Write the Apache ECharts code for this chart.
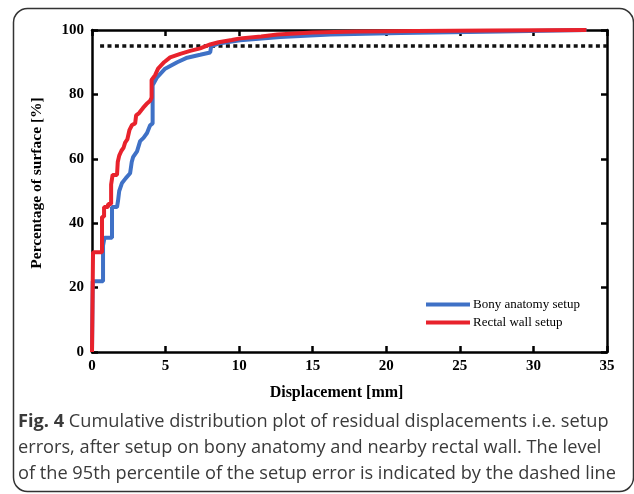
<!DOCTYPE html>
<html>
<head>
<meta charset="utf-8">
<script src="https://cdn.jsdelivr.net/npm/echarts@6/dist/echarts.min.js"></script>
<style>
  html, body { margin: 0; padding: 0; background: #fff; }
  #main { width: 634px; height: 494px; }
</style>
</head>
<body>
<div id="main"></div>
<script>
  // 位移 [mm] / 表面百分比 [%]
  const bonyData = [
    [0, 0], [0.05, 0], [0.05, 22], [0.75, 22], [0.75, 33], [0.85, 33], [0.85, 35.5],
    [1.36, 35.5], [1.36, 45], [1.7, 45], [1.77, 47], [1.85, 50], [2.04, 52.5], [2.3, 54],
    [2.59, 55.5], [2.7, 59], [2.79, 60.5], [3.06, 62.3], [3.27, 65.5], [3.5, 66.5],
    [3.74, 68], [3.95, 70.4], [4.12, 71], [4.12, 82.8], [4.42, 85.3], [4.97, 88],
    [5.79, 90], [6.47, 91.4], [7.35, 92.3], [8.03, 93], [8.1, 95], [8.6, 95.8],
    [10.07, 96.8], [12.8, 97.8], [16.2, 98.6], [21, 99.1], [27.8, 99.5], [33.6, 100]
  ]
  const rectalData = [
    [0, 0], [0.07, 0], [0.07, 31], [0.68, 31], [0.68, 42], [0.82, 42], [0.82, 45],
    [1.09, 45], [1.09, 46], [1.3, 46], [1.3, 52], [1.4, 52], [1.4, 55], [1.7, 55],
    [1.75, 59], [1.85, 61], [2.0, 62.5], [2.15, 63.5], [2.25, 65], [2.4, 66], [2.55, 69],
    [2.72, 70.5], [2.93, 71], [3.0, 73.5], [3.2, 74.2], [3.47, 75.8], [3.7, 77],
    [3.95, 78], [4.05, 79], [4.05, 84.5], [4.29, 86], [4.49, 88], [4.9, 90], [5.31, 91.5],
    [6.0, 92.6], [6.67, 93.5], [7.35, 94.3], [8.03, 95.5], [8.6, 96.2], [9.5, 96.9],
    [10.07, 97.4], [11.5, 98], [12.6, 98.6], [15, 99.2], [18, 99.5], [22, 99.7],
    [27, 99.85], [33.6, 100]
  ]
  // 95% 水平虚线
  const levelLine = [[0.55, 95], [35, 95]]
  const seriesNames = ['Bony anatomy setup', 'Rectal wall setup']
  const captionLines = [
    '{b|Fig. 4} Cumulative distribution plot of residual displacements i.e. setup',
    'errors, after setup on bony anatomy and nearby rectal wall. The level',
    'of the 95th percentile of the setup error is indicated by the dashed line'
  ]

  const serif = '"Liberation Serif", "Times New Roman", serif'
  const axisLineStyle = { color: '#000', width: 2.5 }
  const tickStyle = { show: true, inside: true, length: 6, lineStyle: { color: '#000', width: 2.5 } }
  const labelStyle = { color: '#000', fontFamily: serif, fontWeight: 'bold', fontSize: 15 }

  const myChart = echarts.init(document.getElementById('main'))
  const option = {
    animation: false,
    grid: { left: 92, right: 27, top: 30, bottom: 142 },
    legend: {
      data: seriesNames,
      orient: 'vertical',
      left: 426,
      top: 298,
      padding: 0,
      icon: 'rect',
      itemWidth: 44,
      itemHeight: 4,
      itemGap: 5,
      textStyle: { color: '#000', fontFamily: serif, fontSize: 13, padding: [0, 0, 0, -2] }
    },
    xAxis: [
      {
        type: 'value', min: 0, max: 35, interval: 5,
        name: 'Displacement [mm]', nameLocation: 'middle', nameGap: 33,
        nameTextStyle: { color: '#000', fontFamily: serif, fontWeight: 'bold', fontSize: 16, padding: [0, 26, 0, 0] },
        axisLine: { show: true, onZero: false, lineStyle: axisLineStyle },
        axisTick: tickStyle,
        axisLabel: Object.assign({ margin: 7 }, labelStyle),
        splitLine: { show: false }
      },
      {
        type: 'value', min: 0, max: 35, interval: 5, position: 'top',
        axisLine: { show: true, onZero: false, lineStyle: axisLineStyle },
        axisTick: tickStyle,
        axisLabel: { show: false },
        splitLine: { show: false }
      }
    ],
    yAxis: [
      {
        type: 'value', min: 0, max: 100, interval: 20,
        name: 'Percentage of surface [%]', nameLocation: 'middle', nameGap: 47,
        nameTextStyle: { color: '#000', fontFamily: serif, fontWeight: 'bold', fontSize: 15.5, padding: [0, 0, 0, 16] },
        axisLine: { show: true, onZero: false, lineStyle: axisLineStyle },
        axisTick: tickStyle,
        axisLabel: Object.assign({ margin: 8 }, labelStyle),
        splitLine: { show: false }
      },
      {
        type: 'value', min: 0, max: 100, interval: 20, position: 'right',
        axisLine: { show: true, onZero: false, lineStyle: axisLineStyle },
        axisTick: tickStyle,
        axisLabel: { show: false },
        splitLine: { show: false }
      }
    ],
    graphic: [
      {
        type: 'rect',
        shape: { x: 13.5, y: 8.5, width: 620, height: 483, r: 14 },
        style: { fill: 'none', stroke: '#333', lineWidth: 1.5 },
        silent: true
      },
      {
        type: 'group',
        left: 18,
        top: 413,
        children: captionLines.map((t, i) => ({
          type: 'text',
          x: 0,
          y: i * 26,
          style: {
            text: t,
            fill: '#3a3a3a',
            fontFamily: '"Open Sans", "Noto Sans", sans-serif',
            fontSize: 18.2,
            rich: { b: { fontWeight: 'bold', fontSize: 18.2, fill: '#3a3a3a', fontFamily: '"Open Sans", sans-serif' } }
          }
        }))
      }
    ],
    series: [
      {
        name: seriesNames[0],
        type: 'line',
        data: bonyData,
        showSymbol: false,
        color: '#3f71c6',
        lineStyle: { width: 4, color: '#3f71c6' },
        z: 3
      },
      {
        name: seriesNames[1],
        type: 'line',
        data: rectalData,
        showSymbol: false,
        color: '#e8222c',
        lineStyle: { width: 4, color: '#e8222c' },
        z: 4
      },
      {
        name: 'level',
        type: 'line',
        data: levelLine,
        showSymbol: false,
        silent: true,
        lineStyle: { width: 3.5, color: '#111', type: [4, 3.4] },
        z: 2
      }
    ]
  }
  myChart.setOption(option)
</script>
</body>
</html>
